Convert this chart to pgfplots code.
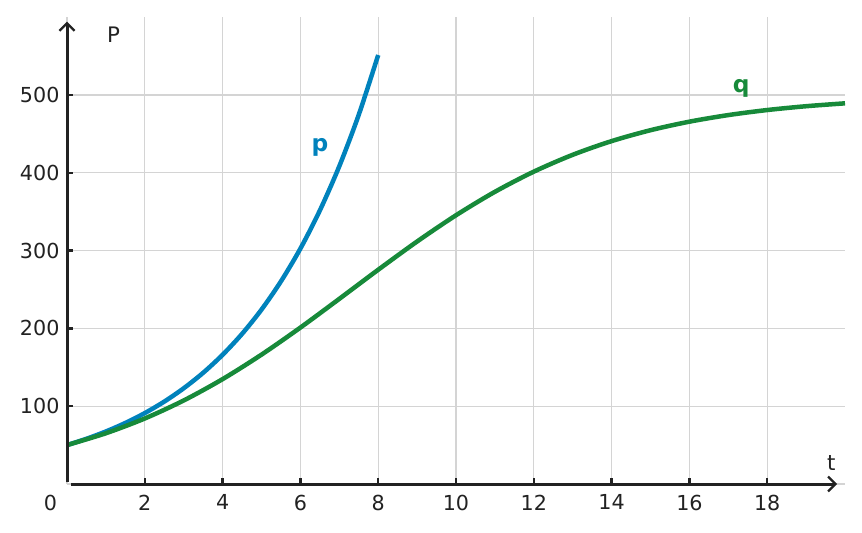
\documentclass[border=0pt]{standalone}
\usepackage{pgfplots}
\pgfplotsset{compat=1.18}
\usepackage{fontspec}
\setmainfont{DejaVu Sans}
\usetikzlibrary{arrows.meta}

\definecolor{pblue}{RGB}{0,130,188}
\definecolor{qgreen}{RGB}{23,138,58}
\definecolor{gridgray}{RGB}{212,212,212}
\definecolor{txt}{RGB}{34,34,34}

\begin{document}
\begin{tikzpicture}[x=0.6pt,y=0.6pt]
\path[use as bounding box] (-67,-48) rectangle (795,484);
\begin{axis}[
  at={(0,0)}, anchor=south west,
  scale only axis,
  width=466.8pt, height=280.2pt,
  xmin=0, xmax=20, ymin=0, ymax=600,
  axis lines=left,
  axis line style={gridgray, line width=0.8pt, -},
  xtick={2,4,...,18}, ytick={100,200,...,500},
  extra x ticks={0},
  extra x tick style={grid=none, major tick length=0pt, xticklabel style={xshift=-10pt}},
  tick align=inside,
  major tick length=3.8pt,
  major tick style={draw=txt, line width=1.4pt},
  grid=major,
  major grid style={draw=gridgray, line width=0.8pt},
  font=\fontsize{12.4}{14}\selectfont,
  tick label style={txt},
  /pgf/number format/assume math mode=true,
  xticklabel style={yshift=-3pt},
  yticklabel style={xshift=-1pt},
  clip=false,
]
\addplot[pblue, line width=2.7pt, smooth] coordinates {
(0,50) (0.5,58.09) (1,67.49) (1.5,78.42) (2,91.11) (2.5,105.85)
(3,122.98) (3.5,142.88) (4,166.01) (4.5,192.87) (5,224.08)
(5.5,260.35) (6,302.48) (6.5,351.43) (7,408.31) (7.5,474.39) (8,551.16)
};

\addplot[qgreen, line width=2.7pt, smooth] coordinates {
(0,50) (1,65.21) (2,84.19) (3,107.31) (4,134.74) (5,166.21)
(6,200.99) (7,237.86) (8,275.26) (9,311.56) (10,345.28)
(11,375.39) (12,401.31) (13,422.95) (14,440.54) (15,454.55)
(16,465.52) (17,473.99) (18,480.47) (19,485.38) (20,489.09)
};

\draw[txt, line width=1.8pt, -{Straight Barb[length=4.5pt,width=9pt,line width=1.4pt]}]
  (axis cs:0.1,0) -- (axis cs:19.8,0);
\draw[txt, line width=1.8pt, -{Straight Barb[length=4.5pt,width=9pt,line width=1.4pt]}]
  (axis cs:0,2) -- (axis cs:0,594);

\node[pblue, font=\fontsize{14}{16}\bfseries\selectfont] at (axis cs:6.5,432) {p};
\node[qgreen, font=\fontsize{14}{16}\bfseries\selectfont] at (axis cs:17.33,508) {q};
\node[txt, font=\fontsize{12.8}{14}\selectfont] at (axis cs:19.65,27) {t};
\node[txt, font=\fontsize{12.8}{14}\selectfont] at (axis cs:1.2,577) {P};
\end{axis}
\end{tikzpicture}
\end{document}
